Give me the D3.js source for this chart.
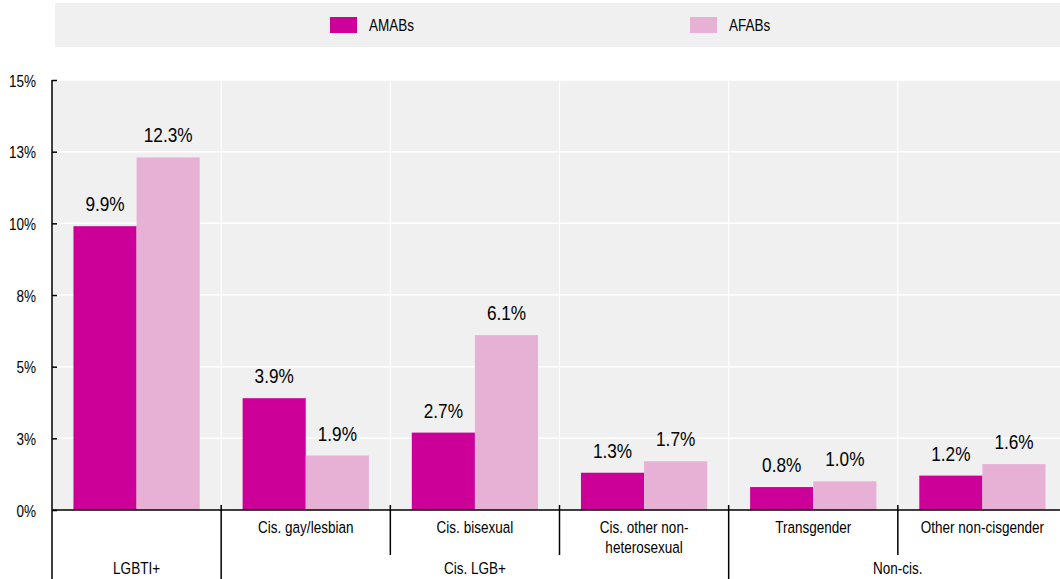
<!DOCTYPE html>
<html>
<head>
<meta charset="utf-8">
<script src="https://cdn.jsdelivr.net/npm/d3@7"></script>
<style>
  html, body { margin: 0; padding: 0; background: #fff; }
  svg { display: block; }
  text { font-family: "Liberation Sans", Arial, sans-serif; fill: #000; }
</style>
</head>
<body>
<svg id="chart" width="1060" height="579"></svg>
<script>
// Share of respondents by identity, split by sex assigned at birth
const categories = ["LGBTI+", "Cis. gay/lesbian", "Cis. bisexual", "Cis. other non-heterosexual", "Transgender", "Other non-cisgender"];
const categoryLines = [[""], ["Cis. gay/lesbian"], ["Cis. bisexual"], ["Cis. other non-", "heterosexual"], ["Transgender"], ["Other non-cisgender"]];
const groups = [
  { label: "LGBTI+", from: 0, to: 1 },
  { label: "Cis. LGB+", from: 1, to: 4 },
  { label: "Non-cis.", from: 4, to: 6 }
];
const series = ["AMABs", "AFABs"];
const amabValues = [9.9, 3.9, 2.7, 1.3, 0.8, 1.2];
const afabValues = [12.3, 1.9, 6.1, 1.7, 1.0, 1.6];
const yTicks = [0, 2.5, 5, 7.5, 10, 12.5, 15];
const colors = ["#cc0099", "#e6b1d5"];

const svg = d3.select("#chart");
const plotLeft = 52, plotTop = 80, plotBottom = 510, plotRight = 1067;
const NARROW = 0.82; // horizontal squeeze for a narrow sans look

const x0 = d3.scaleBand().domain(categories).range([plotLeft, plotRight]).paddingInner(0).paddingOuter(0);
const x1 = d3.scaleBand().domain(series).range([0, x0.bandwidth()]).paddingInner(0).paddingOuter(0.34);
const y = d3.scaleLinear().domain([0, 15]).range([plotBottom, plotTop]);
const color = d3.scaleOrdinal().domain(series).range(colors);

// place a narrow text with its anchor at (x, y)
function narrowText(sel, x, y) {
  return sel.attr("x", 0).attr("y", 0)
    .attr("transform", (d, i, n) => {
      const xx = typeof x === "function" ? x(d, i, n) : x;
      const yy = typeof y === "function" ? y(d, i, n) : y;
      return `translate(${xx},${yy}) scale(${NARROW},1)`;
    });
}

// Legend strip
const legend = svg.append("g");
legend.append("rect").attr("x", 55).attr("y", 3).attr("width", 1010).attr("height", 44).attr("fill", "#f0f0f0");
const legendX = d3.scalePoint().domain(series).range([330, 690]);
series.forEach(s => {
  legend.append("rect").attr("x", legendX(s)).attr("y", 17).attr("width", 27).attr("height", 16).attr("fill", color(s));
  narrowText(legend.append("text"), legendX(s) + 39, 31)
    .attr("font-size", 16.5).text(s);
});

// Plot background
svg.append("rect").attr("x", plotLeft).attr("y", plotTop).attr("width", plotRight - plotLeft).attr("height", plotBottom - plotTop).attr("fill", "#f0f0f0");

// Horizontal gridlines
svg.append("g").selectAll("line").data(yTicks.slice(1)).join("line")
  .attr("x1", plotLeft).attr("x2", plotRight).attr("y1", d => y(d)).attr("y2", d => y(d))
  .attr("stroke", "#fff").attr("stroke-width", 1.5);

// Vertical gridlines between categories
svg.append("g").selectAll("line").data(categories.slice(1)).join("line")
  .attr("x1", d => x0(d)).attr("x2", d => x0(d)).attr("y1", plotTop).attr("y2", plotBottom)
  .attr("stroke", "#fff").attr("stroke-width", 1.2);

// Bars
const rows = categories.map((c, i) => ({ c, vals: [amabValues[i], afabValues[i]] }));
const barG = svg.append("g").selectAll("g").data(rows).join("g")
  .attr("transform", d => `translate(${x0(d.c)},0)`);
barG.selectAll("rect").data(d => d.vals.map((v, j) => ({ s: series[j], v }))).join("rect")
  .attr("x", d => x1(d.s)).attr("width", x1.bandwidth())
  .attr("y", d => y(d.v)).attr("height", d => y(0) - y(d.v))
  .attr("fill", d => color(d.s));
narrowText(
  barG.selectAll("text").data(d => d.vals.map((v, j) => ({ s: series[j], v }))).join("text"),
  d => x1(d.s) + x1.bandwidth() / 2, d => y(d.v) - 15)
  .attr("text-anchor", "middle").attr("font-size", 21)
  .text(d => d.v.toFixed(1) + "%");

// Y axis
const yAxis = svg.append("g").attr("transform", `translate(${plotLeft},0)`)
  .call(d3.axisRight(y).tickValues(yTicks).tickSize(5).tickFormat(d => Math.round(d) + "%"));
yAxis.select(".domain").remove();
yAxis.selectAll(".tick line").attr("stroke", "#000").attr("stroke-width", 1.5);
yAxis.selectAll(".tick text").attr("x", 0).attr("dy", null)
  .attr("transform", `translate(-16,6) scale(${NARROW},1)`)
  .attr("text-anchor", "end").attr("font-size", 16.5)
  .style("font-family", "'Liberation Sans', Arial, sans-serif");
svg.append("line").attr("x1", plotLeft).attr("x2", plotLeft).attr("y1", plotTop).attr("y2", 579)
  .attr("stroke", "#000").attr("stroke-width", 1.5);

// X axis baseline
svg.append("line").attr("x1", plotLeft).attr("x2", plotRight).attr("y1", plotBottom).attr("y2", plotBottom)
  .attr("stroke", "#000").attr("stroke-width", 1.5);

// Separators below the axis
const groupStarts = new Set(groups.map(g => g.from));
svg.append("g").selectAll("line").data(categories.slice(1)).join("line")
  .attr("x1", d => x0(d)).attr("x2", d => x0(d))
  .attr("y1", plotBottom - 5)
  .attr("y2", d => groupStarts.has(categories.indexOf(d)) ? 579 : 555)
  .attr("stroke", "#000").attr("stroke-width", 1.5);

// Category labels
narrowText(svg.append("g").selectAll("text").data(categories).join("text"),
  d => x0(d) + x0.bandwidth() / 2, 533)
  .attr("text-anchor", "middle").attr("font-size", 16.5)
  .each(function(d, i) {
    const t = d3.select(this);
    categoryLines[i].forEach((line, k) => {
      t.append("tspan").attr("x", 0).attr("dy", k === 0 ? 0 : 20).text(line);
    });
  });

// Group labels
narrowText(svg.append("g").selectAll("text").data(groups).join("text"),
  g => (x0(categories[g.from]) + (g.to < categories.length ? x0(categories[g.to]) : plotRight)) / 2, 574)
  .attr("text-anchor", "middle").attr("font-size", 16.5)
  .text(g => g.label);
</script>
</body>
</html>
